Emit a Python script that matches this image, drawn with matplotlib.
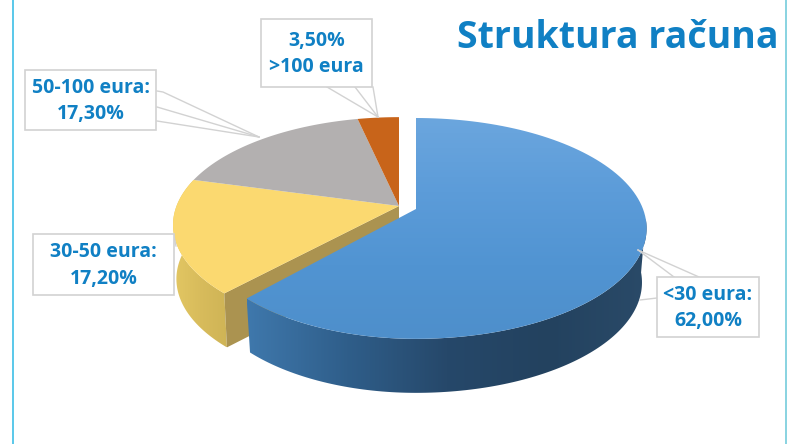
"""Struktura računa: 3D pie drawn by hand with a perspective ellipse."""
import numpy as np
import matplotlib
matplotlib.use("Agg")
import matplotlib.pyplot as plt
from matplotlib.colors import LinearSegmentedColormap
from matplotlib.patches import Polygon

plt.rcParams["font.family"] = ["Open Sans", "DejaVu Sans"]

# data
kategorije = ["<30 eura", "30-50 eura", "50-100 eura", ">100 eura"]
udjeli = [62.0, 17.2, 17.3, 3.5]
natpisi = ["<30 eura:\n62,00%", "30-50 eura:\n17,20%", "50-100 eura:\n17,30%", "3,50%\n>100 eura"]
naslov = "Struktura računa"

PLAVA = "#1080c4"
RUB = "#d2d2d2"

# perspective ellipse of the pie top
RX, K = 227.0, 0.176
RY_PLAVA, RY_OSTALO = 107.0, 104.5
DUBINA = 54.0
SREDISTE = (399.0, 206.0)
SREDISTE_PLAVA = (416.0, 209.0)

kutovi = np.concatenate([[0.0], np.cumsum(udjeli)]) / sum(udjeli) * 360.0


def luk(centar, od, do, ry, lijevo, pomak=0.0, skala=1.0):
    """Points on the rim between two clockwise angles, degrees from 12 o'clock."""
    t = np.radians(np.linspace(od, do, 120))
    u, v = np.sin(t), np.cos(t)
    w = 1 + K * v
    sx = np.where(u < 0, lijevo, 1.0) * skala
    return np.column_stack([centar[0] + sx * RX * u / w, centar[1] - ry * v / w + pomak])


def gradijent(ax, oblik, boje, okomito=False, zorder=2):
    """Fill a polygon with a linear gradient using imshow + clip path."""
    x0, y0 = oblik.min(axis=0)
    x1, y1 = oblik.max(axis=0)
    g = np.linspace(0, 1, 256)
    g = g[:, None] if okomito else g[None, :]
    cmap = LinearSegmentedColormap.from_list("g", boje)
    im = ax.imshow(g, cmap=cmap, extent=(x0, x1, y1, y0), aspect="auto", zorder=zorder,
                   interpolation="bilinear", origin="upper")
    p = Polygon(oblik, closed=True, transform=ax.transData, fc="none", ec="none")
    ax.add_patch(p)
    im.set_clip_path(p)


fig = plt.figure(figsize=(8, 4.44), dpi=100)
ax = fig.add_axes([0, 0, 1, 1])

# yellow slice: side wall and cut face first
a_zuta = luk(SREDISTE, kutovi[1], kutovi[2], RY_OSTALO, 0.98)
b_zuta = luk(SREDISTE, kutovi[1], kutovi[2], RY_OSTALO, 0.98, DUBINA, 0.985)
gradijent(ax, np.vstack([a_zuta, b_zuta[::-1]]), ["#e3c763", "#d8bc5c", "#cfb456"], zorder=2)
kraj = a_zuta[0]
ax.add_patch(Polygon([SREDISTE, kraj, b_zuta[0], (SREDISTE[0], SREDISTE[1] + DUBINA)],
                     fc="#ab9350", ec="none", zorder=3))
ax.add_patch(Polygon(np.vstack([[SREDISTE], a_zuta]), fc="#fbd970", ec="none", zorder=4))

# grey and orange slices
ax.add_patch(Polygon(np.vstack([[SREDISTE], luk(SREDISTE, kutovi[2], kutovi[3], RY_OSTALO, 0.98)]),
                     fc="#b3b0b0", ec="none", zorder=4))
ax.add_patch(Polygon(np.vstack([[SREDISTE], luk(SREDISTE, kutovi[3], kutovi[4], RY_OSTALO, 0.98)]),
                     fc="#c8641a", ec="none", zorder=4))

# blue slice, pulled out to the right
a_plava = luk(SREDISTE_PLAVA, 95, kutovi[1], RY_PLAVA, 0.95)
b_plava = luk(SREDISTE_PLAVA, 95, kutovi[1], RY_PLAVA, 0.95, DUBINA, 0.98)
gradijent(ax, np.vstack([a_plava, b_plava[::-1]]),
          ["#3f78ac", "#2f5e8a", "#26486a", "#23425f", "#2a4a68"], zorder=5)
vrh = np.vstack([[SREDISTE_PLAVA], luk(SREDISTE_PLAVA, kutovi[0], kutovi[1], RY_PLAVA, 0.95)])
gradijent(ax, vrh, ["#6ba6de", "#5c9cd9", "#5194d2", "#4e8fcb"], okomito=True, zorder=6)

# callout leaders
vodilice = [
    [((157, 91), (163, 92), (259, 137)), ((157, 107), (259, 137)), ((157, 121), (259, 137))],
    [((327, 87), (378, 117)), ((355, 87), (378, 117)), ((373, 87), (378, 117))],
    [((674, 277), (638, 250)), ((699, 277), (638, 250)), ((657, 298), (640, 300))],
    [((174, 236), (176, 246))],
]
for grupa in vodilice:
    for crta in grupa:
        xs, ys = zip(*crta)
        ax.plot(xs, ys, color=RUB, lw=1.0, zorder=7)

# callout boxes: x0, y0, x1, y1 (order follows natpisi)
kutije = [(657, 277, 759, 337), (33, 234, 174, 295), (25, 70, 156, 130), (261, 19, 372, 87)]
for (x0, y0, x1, y1), tekst in zip(kutije, natpisi):
    ax.add_patch(plt.Rectangle((x0, y0), x1 - x0, y1 - y0, fc="white", ec=RUB, lw=1.2, zorder=8))
    ax.text((x0 + x1) / 2, (y0 + y1) / 2 + 1, tekst, ha="center", va="center", color=PLAVA,
            fontsize=14, fontweight="bold", linespacing=1.45, zorder=9)

ax.text(618, 38, naslov, ha="center", va="center", color=PLAVA, fontsize=27, fontweight="bold", zorder=9)

# cyan frame lines
ax.axvline(13, color="#4cc4e8", lw=1.3, zorder=1)
ax.axvline(786, color="#7fd0de", lw=1.3, zorder=1)

ax.set_xlim(0, 800)
ax.set_ylim(444, 0)
ax.axis("off")

fig.savefig("out.png", dpi=100, facecolor="white")
